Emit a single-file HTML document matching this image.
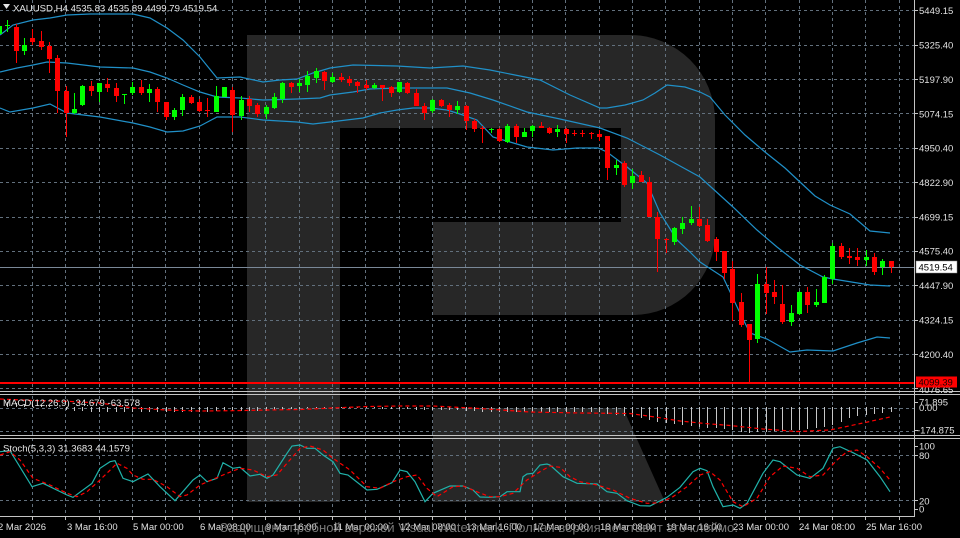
<!DOCTYPE html>
<html><head><meta charset="utf-8"><style>
html,body{margin:0;padding:0;background:#000;overflow:hidden;}
svg{display:block;}
text{font-family:"Liberation Sans",sans-serif;}
</style></head><body>
<svg width="960" height="538" viewBox="0 0 960 538" xmlns="http://www.w3.org/2000/svg">
<rect x="0" y="0" width="960" height="538" fill="#000"/>
<!-- watermark R -->
<path d="M247 35H630A85 85 0 0 1 715 120V233A82 82 0 0 1 633 315H433V222H621V128H340V502H247Z" fill="#272727"/>
<path d="M433 408H623L665 502H433Z" fill="#272727"/>
<!-- grid -->
<g stroke="#62707d" stroke-width="1" stroke-dasharray="3 3" fill="none">
<path d="M32.5 0V516M65.5 0V516M99.5 0V516M132.5 0V516M165.5 0V516M199.5 0V516M232.5 0V516M265.5 0V516M299.5 0V516M332.5 0V516M365.5 0V516M399.5 0V516M432.5 0V516M465.5 0V516M499.5 0V516M532.5 0V516M565.5 0V516M599.5 0V516M632.5 0V516M665.5 0V516M699.5 0V516M732.5 0V516M765.5 0V516M799.5 0V516M832.5 0V516M865.5 0V516M899.5 0V516"/>
<path d="M0 10.5H914M0 45.5H914M0 79.5H914M0 113.5H914M0 148.5H914M0 182.5H914M0 217.5H914M0 251.5H914M0 285.5H914M0 320.5H914M0 354.5H914M0 388.5H914"/>
<path d="M0 408.5H914M0 431.5H914M0 455.5H914M0 500.5H914"/>
</g>
<!-- current price line -->
<path d="M0 267.5H914" stroke="#7a8898" stroke-width="1"/>
<!-- low red line -->
<rect x="0" y="382" width="914" height="2" fill="#ff0000"/>
<!-- bollinger -->
<g fill="none" stroke="#2090c8" stroke-width="1.2">
<polyline points="0,35 13,25 33,20 50,18 67,15 90,14 133,14 150,18 167,28 183,40 200,57 217,78 240,77 263,82 280,80 297,79 313,73 330,68 353,65 397,66 430,68 463,66 490,70 520,76 540,80 570,95 600,108 607,108 625,105 643,100 655,93 667,85 685,87 700,92 710,97 725,115 745,135 765,152 785,168 800,182 815,196 830,205 850,214 870,231 890,233"/>
<polyline points="0,72 17,68 33,65 47,62 67,63 100,67 133,68 150,72 167,78 183,85 200,92 217,97 240,98 263,100 297,99 320,98 330,95 353,92 370,89 397,88 430,88 447,88 470,93 493,100 527,112 560,119 600,128 627,138 660,155 700,177 733,207 757,230 777,247 800,265 823,277 833,279 870,285 890,286"/>
<polyline points="0,108 10,112 33,108 50,104 67,113 100,117 133,123 150,127 167,132 183,131 200,126 217,117 240,117 263,120 297,122 313,124 330,122 363,118 380,113 397,110 413,108 430,108 447,110 460,114 477,120 493,137 510,142 527,147 553,150 577,148 598,148 607,152 627,167 647,183 660,213 677,240 690,252 700,262 723,277 740,313 750,333 767,339 790,352 807,350 833,351 857,343 877,337 890,338"/>
</g>
<!-- green candles -->
<g fill="#00ff00">
<rect x="-1" y="24" width="1" height="12"/><rect x="-3" y="26" width="5" height="8"/>
<rect x="7" y="20" width="1" height="12"/><rect x="5" y="25" width="5" height="1"/>
<rect x="24" y="38" width="1" height="17"/><rect x="22" y="45" width="5" height="6"/>
<rect x="74" y="93" width="1" height="21"/><rect x="72" y="109" width="5" height="4"/>
<rect x="82" y="85" width="1" height="21"/><rect x="80" y="86" width="5" height="19"/>
<rect x="99" y="83" width="1" height="19"/><rect x="97" y="83" width="5" height="9"/>
<rect x="124" y="94" width="1" height="10"/><rect x="122" y="94" width="5" height="1"/>
<rect x="132" y="82" width="1" height="13"/><rect x="130" y="87" width="5" height="6"/>
<rect x="149" y="84" width="1" height="18"/><rect x="147" y="89" width="5" height="4"/>
<rect x="174" y="108" width="1" height="12"/><rect x="172" y="110" width="5" height="7"/>
<rect x="182" y="94" width="1" height="22"/><rect x="180" y="97" width="5" height="13"/>
<rect x="216" y="86" width="1" height="26"/><rect x="214" y="96" width="5" height="16"/>
<rect x="224" y="87" width="1" height="10"/><rect x="222" y="87" width="5" height="10"/>
<rect x="241" y="96" width="1" height="24"/><rect x="239" y="100" width="5" height="16"/>
<rect x="266" y="105" width="1" height="14"/><rect x="264" y="107" width="5" height="7"/>
<rect x="274" y="93" width="1" height="16"/><rect x="272" y="97" width="5" height="11"/>
<rect x="282" y="82" width="1" height="21"/><rect x="280" y="83" width="5" height="16"/>
<rect x="299" y="79" width="1" height="13"/><rect x="297" y="83" width="5" height="3"/>
<rect x="307" y="71" width="1" height="21"/><rect x="305" y="76" width="5" height="9"/>
<rect x="316" y="68" width="1" height="15"/><rect x="314" y="71" width="5" height="7"/>
<rect x="332" y="73" width="1" height="10"/><rect x="330" y="77" width="5" height="5"/>
<rect x="374" y="83" width="1" height="6"/><rect x="372" y="85" width="5" height="3"/>
<rect x="399" y="82" width="1" height="11"/><rect x="397" y="82" width="5" height="10"/>
<rect x="432" y="99" width="1" height="14"/><rect x="430" y="100" width="5" height="11"/>
<rect x="457" y="101" width="1" height="13"/><rect x="455" y="106" width="5" height="4"/>
<rect x="491" y="128" width="1" height="5"/><rect x="489" y="129" width="5" height="1"/>
<rect x="507" y="124" width="1" height="19"/><rect x="505" y="126" width="5" height="16"/>
<rect x="524" y="128" width="1" height="9"/><rect x="522" y="132" width="5" height="5"/>
<rect x="532" y="125" width="1" height="12"/><rect x="530" y="126" width="5" height="5"/>
<rect x="557" y="125" width="1" height="12"/><rect x="555" y="129" width="5" height="3"/>
<rect x="616" y="160" width="1" height="15"/><rect x="614" y="165" width="5" height="3"/>
<rect x="632" y="169" width="1" height="20"/><rect x="630" y="176" width="5" height="7"/>
<rect x="674" y="227" width="1" height="18"/><rect x="672" y="228" width="5" height="14"/>
<rect x="682" y="217" width="1" height="17"/><rect x="680" y="223" width="5" height="6"/>
<rect x="691" y="206" width="1" height="19"/><rect x="689" y="219" width="5" height="4"/>
<rect x="757" y="274" width="1" height="69"/><rect x="755" y="284" width="5" height="55"/>
<rect x="791" y="305" width="1" height="21"/><rect x="789" y="313" width="5" height="9"/>
<rect x="799" y="291" width="1" height="24"/><rect x="797" y="292" width="5" height="22"/>
<rect x="816" y="289" width="1" height="18"/><rect x="814" y="302" width="5" height="3"/>
<rect x="824" y="275" width="1" height="28"/><rect x="822" y="277" width="5" height="26"/>
<rect x="832" y="243" width="1" height="41"/><rect x="830" y="246" width="5" height="33"/>
<rect x="866" y="250" width="1" height="16"/><rect x="864" y="257" width="5" height="3"/>
<rect x="882" y="259" width="1" height="16"/><rect x="880" y="261" width="5" height="6"/>
</g>
<!-- red candles -->
<g fill="#ff0000">
<rect x="16" y="24" width="1" height="39"/><rect x="14" y="27" width="5" height="24"/>
<rect x="32" y="29" width="1" height="16"/><rect x="30" y="38" width="5" height="4"/>
<rect x="41" y="31" width="1" height="19"/><rect x="39" y="41" width="5" height="6"/>
<rect x="49" y="42" width="1" height="31"/><rect x="47" y="46" width="5" height="13"/>
<rect x="57" y="55" width="1" height="58"/><rect x="55" y="58" width="5" height="33"/>
<rect x="66" y="86" width="1" height="51"/><rect x="64" y="91" width="5" height="22"/>
<rect x="91" y="81" width="1" height="15"/><rect x="89" y="86" width="5" height="5"/>
<rect x="107" y="78" width="1" height="14"/><rect x="105" y="84" width="5" height="4"/>
<rect x="116" y="83" width="1" height="19"/><rect x="114" y="88" width="5" height="8"/>
<rect x="141" y="80" width="1" height="15"/><rect x="139" y="87" width="5" height="6"/>
<rect x="157" y="87" width="1" height="25"/><rect x="155" y="89" width="5" height="13"/>
<rect x="166" y="102" width="1" height="18"/><rect x="164" y="102" width="5" height="15"/>
<rect x="191" y="95" width="1" height="9"/><rect x="189" y="97" width="5" height="6"/>
<rect x="199" y="99" width="1" height="13"/><rect x="197" y="102" width="5" height="9"/>
<rect x="207" y="98" width="1" height="19"/><rect x="205" y="110" width="5" height="1"/>
<rect x="232" y="87" width="1" height="45"/><rect x="230" y="90" width="5" height="25"/>
<rect x="249" y="96" width="1" height="16"/><rect x="247" y="99" width="5" height="7"/>
<rect x="257" y="103" width="1" height="14"/><rect x="255" y="105" width="5" height="9"/>
<rect x="291" y="82" width="1" height="11"/><rect x="289" y="83" width="5" height="4"/>
<rect x="324" y="71" width="1" height="19"/><rect x="322" y="72" width="5" height="9"/>
<rect x="341" y="73" width="1" height="9"/><rect x="339" y="77" width="5" height="3"/>
<rect x="349" y="76" width="1" height="10"/><rect x="347" y="79" width="5" height="4"/>
<rect x="357" y="81" width="1" height="12"/><rect x="355" y="82" width="5" height="4"/>
<rect x="366" y="80" width="1" height="10"/><rect x="364" y="85" width="5" height="3"/>
<rect x="382" y="85" width="1" height="16"/><rect x="380" y="85" width="5" height="3"/>
<rect x="391" y="86" width="1" height="11"/><rect x="389" y="87" width="5" height="6"/>
<rect x="407" y="82" width="1" height="12"/><rect x="405" y="83" width="5" height="10"/>
<rect x="416" y="89" width="1" height="17"/><rect x="414" y="93" width="5" height="13"/>
<rect x="424" y="103" width="1" height="17"/><rect x="422" y="106" width="5" height="7"/>
<rect x="441" y="99" width="1" height="8"/><rect x="439" y="100" width="5" height="6"/>
<rect x="449" y="103" width="1" height="14"/><rect x="447" y="105" width="5" height="5"/>
<rect x="466" y="105" width="1" height="25"/><rect x="464" y="106" width="5" height="15"/>
<rect x="474" y="119" width="1" height="13"/><rect x="472" y="121" width="5" height="8"/>
<rect x="482" y="126" width="1" height="17"/><rect x="480" y="128" width="5" height="1"/>
<rect x="499" y="128" width="1" height="14"/><rect x="497" y="129" width="5" height="12"/>
<rect x="516" y="124" width="1" height="19"/><rect x="514" y="126" width="5" height="11"/>
<rect x="541" y="122" width="1" height="6"/><rect x="539" y="126" width="5" height="2"/>
<rect x="549" y="127" width="1" height="7"/><rect x="547" y="128" width="5" height="5"/>
<rect x="566" y="128" width="1" height="15"/><rect x="564" y="129" width="5" height="5"/>
<rect x="574" y="130" width="1" height="6"/><rect x="572" y="133" width="5" height="1"/>
<rect x="582" y="130" width="1" height="7"/><rect x="580" y="133" width="5" height="1"/>
<rect x="591" y="132" width="1" height="7"/><rect x="589" y="133" width="5" height="1"/>
<rect x="599" y="130" width="1" height="11"/><rect x="597" y="134" width="5" height="3"/>
<rect x="607" y="136" width="1" height="44"/><rect x="605" y="136" width="5" height="32"/>
<rect x="624" y="161" width="1" height="26"/><rect x="622" y="163" width="5" height="22"/>
<rect x="641" y="171" width="1" height="11"/><rect x="639" y="175" width="5" height="7"/>
<rect x="649" y="177" width="1" height="40"/><rect x="647" y="182" width="5" height="35"/>
<rect x="657" y="212" width="1" height="60"/><rect x="655" y="217" width="5" height="22"/>
<rect x="666" y="238" width="1" height="15"/><rect x="664" y="239" width="5" height="1"/>
<rect x="699" y="207" width="1" height="20"/><rect x="697" y="219" width="5" height="7"/>
<rect x="707" y="219" width="1" height="23"/><rect x="705" y="225" width="5" height="16"/>
<rect x="716" y="237" width="1" height="24"/><rect x="714" y="239" width="5" height="13"/>
<rect x="724" y="251" width="1" height="28"/><rect x="722" y="251" width="5" height="22"/>
<rect x="732" y="261" width="1" height="60"/><rect x="730" y="269" width="5" height="34"/>
<rect x="741" y="293" width="1" height="34"/><rect x="739" y="302" width="5" height="23"/>
<rect x="749" y="324" width="1" height="58"/><rect x="747" y="324" width="5" height="16"/>
<rect x="766" y="267" width="1" height="47"/><rect x="764" y="284" width="5" height="9"/>
<rect x="774" y="280" width="1" height="24"/><rect x="772" y="292" width="5" height="5"/>
<rect x="782" y="285" width="1" height="39"/><rect x="780" y="304" width="5" height="18"/>
<rect x="807" y="287" width="1" height="26"/><rect x="805" y="292" width="5" height="13"/>
<rect x="841" y="243" width="1" height="16"/><rect x="839" y="246" width="5" height="11"/>
<rect x="849" y="248" width="1" height="16"/><rect x="847" y="256" width="5" height="2"/>
<rect x="857" y="248" width="1" height="18"/><rect x="855" y="257" width="5" height="3"/>
<rect x="874" y="253" width="1" height="22"/><rect x="872" y="257" width="5" height="15"/>
<rect x="891" y="261" width="1" height="12"/><rect x="889" y="261" width="5" height="6"/>
</g>
<!-- MACD histogram -->
<path stroke="#c8c8c8" stroke-width="1" fill="none" d="M-0.5 407V402M7.5 407V402M16.5 407V403M24.5 407V404M32.5 407V404M41.5 407V405M49.5 407V406M57.5 407V408M66.5 407V410M74.5 407V411M82.5 407V411M91.5 407V412M99.5 407V412M107.5 407V412M116.5 407V412M124.5 407V412M132.5 407V412M141.5 407V412M149.5 407V412M157.5 407V412M166.5 407V412M174.5 407V412M182.5 407V412M191.5 407V412M199.5 407V412M207.5 407V412M216.5 407V411M224.5 407V411M232.5 407V411M241.5 407V411M249.5 407V411M257.5 407V411M266.5 407V411M274.5 407V410M282.5 407V410M291.5 407V409M299.5 407V409M307.5 407V408M316.5 407V408M324.5 407V408M332.5 407V408M341.5 407V408M349.5 407V408M357.5 407V408M366.5 407V408M374.5 407V408M382.5 407V409M391.5 407V409M399.5 407V409M407.5 407V409M416.5 407V410M424.5 407V410M432.5 407V410M441.5 407V410M449.5 407V410M457.5 407V410M466.5 407V411M474.5 407V411M482.5 407V412M491.5 407V412M499.5 407V412M507.5 407V412M516.5 407V412M524.5 407V412M532.5 407V412M541.5 407V412M549.5 407V412M557.5 407V412M566.5 407V412M574.5 407V412M582.5 407V412M591.5 407V412M599.5 407V412M607.5 407V414M616.5 407V415M624.5 407V416M632.5 407V417M641.5 407V418M649.5 407V420M657.5 407V422M666.5 407V423M674.5 407V424M682.5 407V425M691.5 407V426M699.5 407V427M707.5 407V428M716.5 407V428M724.5 407V429M732.5 407V430M741.5 407V432M749.5 407V433M757.5 407V432M766.5 407V432M774.5 407V431M782.5 407V431M791.5 407V430M799.5 407V430M807.5 407V429M816.5 407V428M824.5 407V427M832.5 407V425M841.5 407V422M849.5 407V418M857.5 407V416M866.5 407V415M874.5 407V414M882.5 407V413M891.5 407V412"/>
<!-- MACD signal -->
<polyline fill="none" stroke="#ff0000" stroke-width="1.2" stroke-dasharray="4 3" points="0,399 33,400.5 67,401.3 100,403 133,408 167,410 200,411 233,410.7 267,410 300,409.5 333,408 367,406.5 400,406 433,406 480,408.5 530,412 580,413 630,413.5 655,417 680,421 705,423.5 730,425.5 763,429 797,431.5 830,430 863,423 890,417"/>
<!-- Stoch -->
<polyline fill="none" stroke="#20b2aa" stroke-width="1.2" points="0,451.7 10,450.7 32,486.7 43,483.3 67,495 73,497.3 92,483.3 100,468.3 110,461.7 115,460.7 123,478.3 133,481.7 148,474 160,486.7 175,500.7 193,480 200,475 207,481.7 217,478.3 223,462.7 233,468.3 240,467.3 250,476 260,474.3 267,478.3 273,475 287,453.3 292,446 300,445 307,448.3 315,448.3 323,455 333,461.7 340,473.3 348,475 367,490 377,489.3 392,482.7 400,470 407,471.7 415,481.7 425,501.7 433,493.3 450,486 463,486 473,490 480,497 490,497.3 500,496.7 507,491.7 520,491.7 523,476.7 527,474 533,473.3 540,465 547,464 550,465 563,476.7 577,483.3 597,484 607,491.7 617,493.3 627,500.7 640,505.7 650,506 667,497.3 680,487.3 693,471.7 700,468.3 707,470.7 713,486.7 723,506.7 733,505 740,508.3 747,503.3 763,473.3 773,460 780,461.7 797,475 810,478.3 823,468.3 833,448.3 840,446.7 853,452.7 867,460 880,476.7 890,491.7"/>
<polyline fill="none" stroke="#ff0000" stroke-width="1.2" stroke-dasharray="4 3" points="0,455 10,451.7 20,460 33,478.3 50,485 67,493.3 77,496.7 87,491.7 100,480 117,463.3 127,468.3 133,475 143,479.3 153,479.3 167,486.7 180,496.7 187,495 200,485 213,479.3 227,473.3 240,468.3 253,470 267,476.7 277,475 287,463.3 300,448.3 310,446 323,450 333,458.3 350,470 367,486.7 380,488.3 393,481.7 407,476.7 417,475 427,488.3 437,496.7 453,486.7 463,486 480,493 490,496.7 500,496.7 513,493.3 527,480 540,471.7 550,466 560,467.3 570,476.7 580,481.7 597,485 613,490 630,498.3 647,503.3 660,502.7 673,496.7 687,486.7 700,475 710,471.7 720,480 733,501.7 743,506.7 757,498.3 770,476.7 783,466 797,468.3 810,476.7 823,475 837,460 847,451.7 857,450 867,456.7 880,468.3 890,480"/>
<!-- separators & axis -->
<g stroke="#c4c4c4" stroke-width="1" fill="none">
<path d="M0 391.5H960M0 394.5H960M0 435.5H960M0 438.5H960M0 516.5H915"/>
<path d="M914.5 0V517"/>
<path d="M914 10.5h4M914 45.5h4M914 79.5h4M914 113.5h4M914 148.5h4M914 182.5h4M914 217.5h4M914 251.5h4M914 285.5h4M914 320.5h4M914 354.5h4M914 388.5h4M914 402.5h4M914 430.5h4M914 446.5h4M914 455.5h4M914 500.5h4M914 509.5h4"/>
<path d="M32.5 517v3M65.5 517v3M99.5 517v3M132.5 517v3M165.5 517v3M199.5 517v3M232.5 517v3M265.5 517v3M299.5 517v3M332.5 517v3M365.5 517v3M399.5 517v3M432.5 517v3M465.5 517v3M499.5 517v3M532.5 517v3M565.5 517v3M599.5 517v3M632.5 517v3M665.5 517v3M699.5 517v3M732.5 517v3M765.5 517v3M799.5 517v3M832.5 517v3M865.5 517v3M899.5 517v3"/>
</g>
<!-- header -->
<polygon points="3,4 10,4 6.5,9" fill="#e6e6e6"/>
<text x="13" y="11.5" font-size="9.6" fill="#e6e6e6">XAUUSD,H4  4535.83 4535.89 4499.79 4519.54</text>
<text x="3" y="406" font-size="9.6" fill="#e6e6e6">MACD(12,26,9) -34.679 -63.578</text>
<text x="3" y="451.5" font-size="9.6" fill="#e6e6e6">Stoch(5,3,3) 31.3683 44.1579</text>
<!-- right axis labels -->
<g font-size="9.5" fill="#e0e0e0">
<text x="919" y="14.2">5449.15</text>
<text x="919" y="48.6">5325.40</text>
<text x="919" y="83">5197.90</text>
<text x="919" y="117.3">5074.15</text>
<text x="919" y="151.6">4950.40</text>
<text x="919" y="186">4822.90</text>
<text x="919" y="220.4">4699.15</text>
<text x="919" y="254.7">4575.40</text>
<text x="919" y="289.1">4447.90</text>
<text x="919" y="323.4">4324.15</text>
<text x="919" y="357.8">4200.40</text>
<text x="919" y="393">4076.65</text>
<text x="919" y="405.5">71.895</text>
<text x="919" y="411">0.00</text>
<text x="917" y="433.5">-174.875</text>
<text x="919" y="449.5">100</text>
<text x="919" y="459">80</text>
<text x="919" y="504.5">20</text>
<text x="919" y="512.5">0</text>
</g>
<rect x="916" y="261" width="41" height="12" fill="#ffffff" stroke="#888" stroke-width="0.5"/>
<text x="918.5" y="270.7" font-size="9.5" fill="#000">4519.54</text>
<rect x="916" y="376.5" width="41" height="11" fill="#ff0000"/>
<text x="918.5" y="385.5" font-size="9.5" fill="#1a0000">4099.39</text>
<!-- time labels -->
<g font-size="9.5" fill="#e0e0e0">
<text x="-2" y="530">2 Mar 2026</text>
<text x="67" y="530">3 Mar 16:00</text>
<text x="133" y="530">5 Mar 00:00</text>
<text x="200" y="530">6 Mar 08:00</text>
<text x="266" y="530">9 Mar 16:00</text>
<text x="333" y="530">11 Mar 00:00</text>
<text x="400" y="530">12 Mar 08:00</text>
<text x="466" y="530">13 Mar 16:00</text>
<text x="533" y="530">17 Mar 00:00</text>
<text x="600" y="530">18 Mar 08:00</text>
<text x="666" y="530">19 Mar 16:00</text>
<text x="733" y="530">23 Mar 00:00</text>
<text x="799" y="530">24 Mar 08:00</text>
<text x="866" y="530">25 Mar 16:00</text>
</g>
<!-- watermark text -->
<text x="220" y="532" font-size="13" fill="#8c8c8c" fill-opacity="0.85" textLength="518" lengthAdjust="spacingAndGlyphs" style="font-family:'Liberation Sans','DejaVu Sans',sans-serif">Защищено пробной версией Visual Watermark. Полная версия не ставит это клеймо.</text>
</svg>
</body></html>
